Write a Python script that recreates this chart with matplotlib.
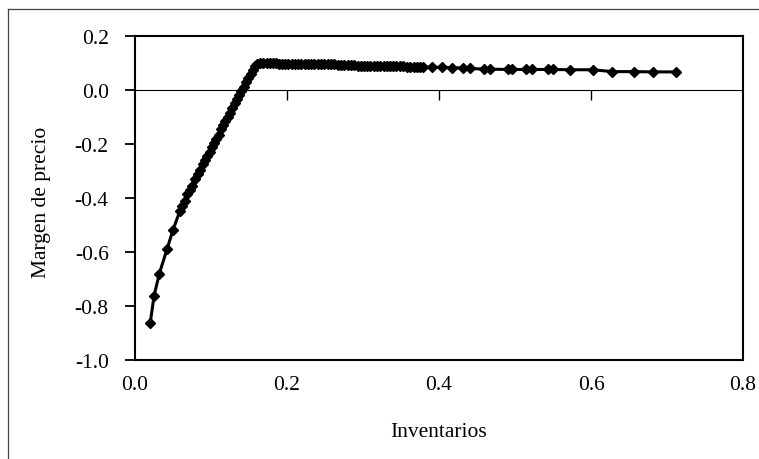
import matplotlib
matplotlib.use('Agg')
import matplotlib.pyplot as plt
from matplotlib.lines import Line2D

plt.rcParams['font.family'] = ['Liberation Serif', 'DejaVu Serif']

# Inventarios (x) and margen de precio (y)
inventarios = [
    0.020, 0.025, 0.032, 0.042, 0.050, 0.059,
    0.062, 0.066, 0.069, 0.072, 0.075, 0.079, 0.083, 0.086, 0.089, 0.092,
    0.095, 0.098, 0.101, 0.104, 0.107, 0.110, 0.113, 0.116, 0.119, 0.122,
    0.125, 0.128, 0.131, 0.134, 0.137, 0.140, 0.143, 0.146, 0.149, 0.152,
    0.155, 0.158, 0.161, 0.165, 0.169,
    0.173, 0.177, 0.181, 0.185, 0.189, 0.193, 0.197, 0.201, 0.206, 0.210,
    0.214, 0.219, 0.223, 0.228, 0.232, 0.236, 0.241, 0.245, 0.249, 0.254,
    0.258, 0.262, 0.267, 0.271, 0.275, 0.280, 0.284, 0.288,
    0.293, 0.297, 0.301, 0.305, 0.309, 0.314, 0.318, 0.322, 0.327, 0.331,
    0.336, 0.340, 0.344, 0.349, 0.353, 0.358, 0.362, 0.367, 0.371, 0.375,
    0.379, 0.391, 0.404, 0.417, 0.432, 0.441, 0.459, 0.467, 0.491, 0.496,
    0.515, 0.522, 0.544, 0.550, 0.572, 0.602, 0.628, 0.656, 0.681, 0.712,
]
margen = [
    -0.863, -0.763, -0.680, -0.590, -0.518, -0.448,
    -0.430, -0.410, -0.385, -0.370, -0.355, -0.330, -0.310, -0.295, -0.275, -0.260,
    -0.245, -0.230, -0.210, -0.195, -0.180, -0.165, -0.145, -0.130, -0.115, -0.100,
    -0.085, -0.065, -0.050, -0.035, -0.020, -0.005, 0.010, 0.030, 0.045, 0.060,
    0.075, 0.088, 0.096, 0.099, 0.100,
    0.100, 0.100, 0.100, 0.099, 0.097, 0.096, 0.096, 0.096, 0.096, 0.096,
    0.096, 0.095, 0.095, 0.095, 0.095, 0.095, 0.095, 0.095, 0.095, 0.095,
    0.095, 0.095, 0.094, 0.094, 0.094, 0.094, 0.094, 0.094,
    0.089, 0.089, 0.089, 0.089, 0.088, 0.088, 0.088, 0.088, 0.088, 0.088,
    0.087, 0.087, 0.087, 0.087, 0.087, 0.086, 0.086, 0.086, 0.086, 0.086,
    0.085, 0.084, 0.084, 0.083, 0.081, 0.080, 0.077, 0.077, 0.076, 0.076,
    0.076, 0.076, 0.076, 0.076, 0.075, 0.075, 0.068, 0.068, 0.067, 0.067,
]

x_ticks = [0.0, 0.2, 0.4, 0.6, 0.8]
y_ticks = [0.2, 0.0, -0.2, -0.4, -0.6, -0.8, -1.0]

fig = plt.figure(figsize=(7.59, 4.60), dpi=100)
ax = fig.add_axes([0.1779, 0.2152, 0.8011, 0.7044])

# outer chart border (left and top only are visible)
fig.add_artist(Line2D([0.0105, 0.0105], [0.0, 0.978], color='#444444', lw=0.9))
fig.add_artist(Line2D([0.0105, 1.0], [0.978, 0.978], color='#444444', lw=0.9))

ax.axhline(0, color='black', lw=0.8, zorder=1)
ax.vlines(x_ticks[1:-1], -0.037, 0, color='black', lw=1.0, zorder=1)

ax.plot(inventarios, margen, color='black', lw=2.2, marker='D',
        markersize=5, zorder=3)

ax.set_xlim(0, 0.8)
ax.set_ylim(-1.0, 0.2)
ax.set_xticks(x_ticks)
ax.set_yticks(y_ticks)
ax.set_xticklabels(['%.1f' % v for v in x_ticks])
ax.set_yticklabels(['%.1f' % v for v in y_ticks])

for s in ax.spines.values():
    s.set_linewidth(1.5)
ax.tick_params(axis='x', length=0, pad=11, labelsize=15.5)
ax.tick_params(axis='y', length=7, width=1.3, pad=12, labelsize=15.5)

ax.set_xlabel('Inventarios', fontsize=15.5)
ax.set_ylabel('Margen de precio', fontsize=15.5)
ax.xaxis.set_label_coords(0.5, -0.19)
ax.yaxis.set_label_coords(-0.138, 0.49)

fig.savefig('out.png', dpi=100)
